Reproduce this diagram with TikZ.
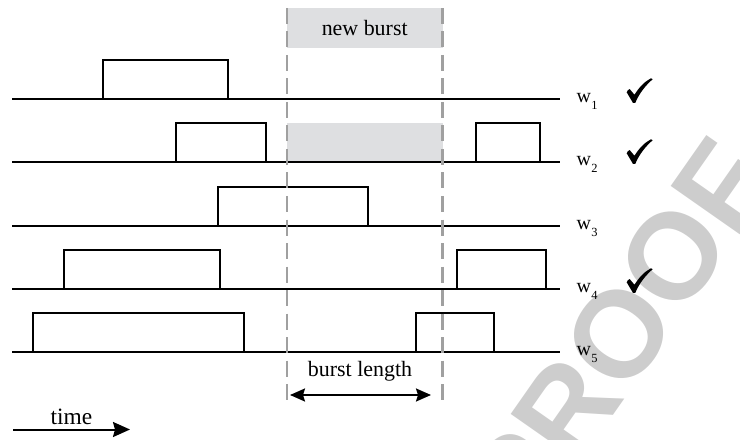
\documentclass[tikz,border=0pt]{standalone}
\usepackage{fontspec}
\setmainfont{Liberation Serif}
\newfontfamily\stampfont{Liberation Sans}
\usetikzlibrary{arrows.meta}

\definecolor{burstfill}{RGB}{222,223,225}
\definecolor{guide}{RGB}{160,160,160}
\definecolor{stampgray}{RGB}{205,205,205}

\tikzset{
  signal/.style={line width=1.8bp, black},
  guideline/.style={guide, line width=2.6bp, dash pattern=on 16bp off 7.5bp},
  burstarea/.style={fill=burstfill, draw=none},
  wlabel/.style={anchor=base west, inner sep=0pt, font=\fontsize{20}{22}\selectfont},
  caption/.style={anchor=base, inner sep=0pt, font=\fontsize{22}{24}\selectfont},
  timecap/.style={anchor=base, inner sep=0pt, font=\fontsize{23.5}{25}\selectfont},
  span/.style={line width=2bp,
    {Stealth[length=15bp,width=13bp,inset=2bp]}-{Stealth[length=15bp,width=13bp,inset=2bp]}},
  timearrow/.style={line width=2bp, -{Stealth[length=17bp,width=15bp,inset=2bp]}},
  tickmark/.pic={
    \fill[black] (0,14) .. controls (0.5,12.5) and (1.5,11) .. (3,10.8)
      -- (7.8,16.5) .. controls (12,9.5) and (17.5,3.5) .. (24.2,0)
      -- (26,0.9) .. controls (19,7) and (12.5,15) .. (8.6,24.5)
      -- (6.2,24.5) -- cycle;
  }
}

\newcommand{\wsub}[1]{w\hspace{0.3bp}\raisebox{-7bp}{\fontsize{12.5}{12.5}\selectfont #1}}

\begin{document}
\begin{tikzpicture}[x=1bp,y=-1bp]
  \useasboundingbox (0,0) rectangle (740,440);

  % proof stamp behind everything
  \node[rotate=55, text=stampgray, inner sep=0pt,
        font=\stampfont\bfseries\fontsize{123}{123}\selectfont] (stamp) at (619,334) {PROOF};

  % slot taken by the new burst
  \fill[burstarea] (287,8.5) rectangle (442.5,48);
  \fill[burstarea] (287,122.7) rectangle (442.5,162);
  \node[caption] (newburst) at (364.7,36) {new burst};

  % wavelength time lines
  \foreach \yy in {99,162,226,289,352}
    \draw[signal] (12,\yy) -- (560,\yy);

  % occupied bursts
  \draw[signal] (103,99) rectangle (228,60);
  \draw[signal] (175.7,162) rectangle (265.7,123);
  \draw[signal] (476,162) rectangle (540,123);
  \draw[signal] (218,226) rectangle (368.3,187);
  \draw[signal] (64.3,289) rectangle (220,250);
  \draw[signal] (456.7,289) rectangle (546,250);
  \draw[signal] (32.7,352) rectangle (244,313);
  \draw[signal] (415.7,352) rectangle (494,313);

  % burst boundaries
  \coordinate (gl-top) at (287,8);
  \coordinate (gl-bot) at (287,403);
  \coordinate (gr-top) at (442.5,8);
  \coordinate (gr-bot) at (442.5,403);
  \draw[guideline] (gl-top) -- (gl-bot);
  \draw[guideline] (gr-top) -- (gr-bot);

  % wavelength labels
  \node[wlabel] (w1) at (576.5,103) {\wsub{1}};
  \node[wlabel] (w2) at (576.5,165.5) {\wsub{2}};
  \node[wlabel] (w3) at (576.5,229.5) {\wsub{3}};
  \node[wlabel] (w4) at (576.5,292.8) {\wsub{4}};
  \node[wlabel] (w5) at (576.5,356) {\wsub{5}};

  % free wavelengths
  \pic at (626.7,78.3) {tickmark};
  \pic at (626.7,139.3) {tickmark};
  \pic at (626.7,268.3) {tickmark};

  % burst length
  \node[caption] (blen) at (360,376.5) {burst length};
  \coordinate (bl-left) at (290,395);
  \coordinate (bl-right) at (431,395);
  \draw[span] (bl-left) -- (bl-right);

  % time axis
  \node[timecap] (timelbl) at (71.5,424) {time};
  \coordinate (t-start) at (13,429.5);
  \coordinate (t-end) at (130,429.5);
  \draw[timearrow] (t-start) -- (t-end);
\end{tikzpicture}
\end{document}
